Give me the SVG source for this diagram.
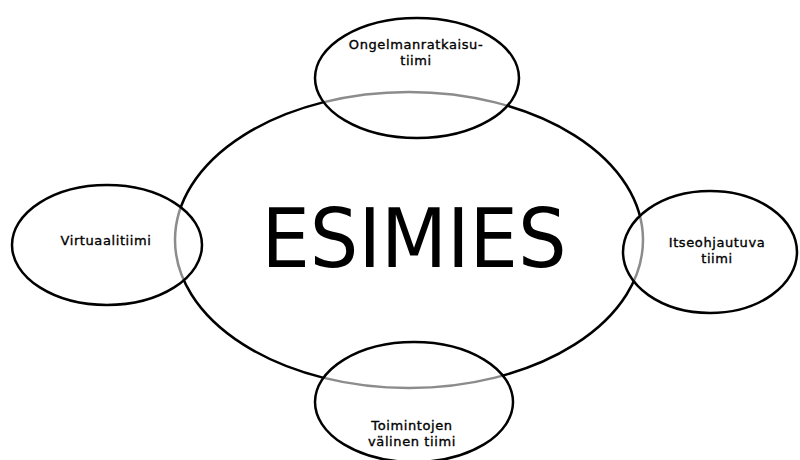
<svg xmlns="http://www.w3.org/2000/svg" width="800" height="460" viewBox="0 0 800 460">
<style>
.big{fill:#fff;stroke:#000;stroke-width:2.5}
.sm{fill:#fff;fill-opacity:0.55;stroke:#000;stroke-width:2.5}
.lbl{font-family:"DejaVu Sans",Verdana,sans-serif;font-size:13px;letter-spacing:0.6px;fill:#000;stroke:#000;stroke-width:0.35;text-anchor:middle}
.main{font-family:"DejaVu Sans","Liberation Sans",sans-serif;font-size:82px;fill:#000;text-anchor:middle}
</style>
<rect width="800" height="460" fill="#fff"/>
<g id="esimies">
<ellipse class="big" cx="409" cy="240" rx="234" ry="148"/>
<text class="main" x="414" y="267" textLength="305" lengthAdjust="spacingAndGlyphs">ESIMIES</text>
</g>
<g id="connectors"></g>
<g id="ongelmanratkaisutiimi">
<ellipse class="sm" cx="417" cy="78" rx="102" ry="60"/>
<text class="lbl" x="416" y="49">Ongelmanratkaisu-</text>
<text class="lbl" x="416" y="65">tiimi</text>
</g>
<g id="virtuaalitiimi">
<ellipse class="sm" cx="107" cy="245" rx="95" ry="60"/>
<text class="lbl" x="106" y="245">Virtuaalitiimi</text>
</g>
<g id="itseohjautuva">
<ellipse class="sm" cx="710" cy="252" rx="87" ry="61"/>
<text class="lbl" x="717" y="247">Itseohjautuva</text>
<text class="lbl" x="717" y="263">tiimi</text>
</g>
<g id="toimintojen">
<ellipse class="sm" cx="414" cy="402" rx="99" ry="60"/>
<text class="lbl" x="412" y="430">Toimintojen</text>
<text class="lbl" x="412" y="446">välinen tiimi</text>
</g>
</svg>
